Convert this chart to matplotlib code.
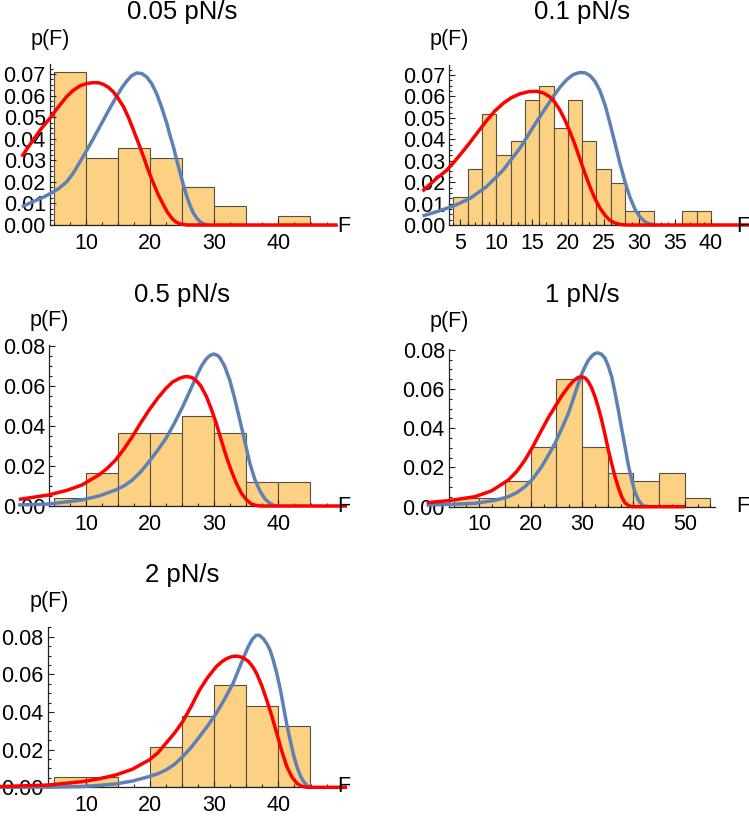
import numpy as np
import matplotlib
matplotlib.use("Agg")
import matplotlib.pyplot as plt
from matplotlib.ticker import MultipleLocator, FixedLocator, FormatStrFormatter

plt.rcParams['font.family'] = ['Liberation Sans', 'DejaVu Sans']

# ---- data ----
titles = ['0.05 pN/s', '0.1 pN/s', '0.5 pN/s', '1 pN/s', '2 pN/s']

edges_005 = [5, 10, 15, 20, 25, 30, 35, 40, 45]
hist_005 = [0.0711, 0.0311, 0.0356, 0.0311, 0.0178, 0.0089, 0.0, 0.0044]
red_005_F = [0.0, 1.0, 2.0, 3.0, 4.38, 5.5, 6.98, 8.0, 9.06, 10.1, 11.15, 12.0, 12.71, 13.5, 14.27,
             15.0, 15.83, 16.6, 17.4, 18.2, 18.96, 19.7, 20.52, 21.3, 22.08, 22.7, 23.39, 24.0,
             24.69, 25.73, 49.2]
red_005_p = [0.0317, 0.0362, 0.0404, 0.0446, 0.0495, 0.0540, 0.0595, 0.0624, 0.0645, 0.0656,
             0.0660, 0.0659, 0.0652, 0.0638, 0.0617, 0.0588, 0.0549, 0.0500, 0.0440, 0.0378,
             0.0317, 0.0254, 0.0193, 0.0138, 0.0093, 0.0059, 0.0031, 0.0014, 0.0005, 0.0, 0.0]
blue_005_F = [0.0, 1.5, 3.0, 4.38, 5.7, 6.98, 8.0, 9.0, 10.0, 11.1, 12.19, 13.5, 14.79, 15.6,
              16.35, 17.1, 17.92, 18.7, 19.48, 20.25, 21.04, 21.8, 22.6, 23.15, 23.65, 24.15,
              24.69, 25.2, 25.73, 26.25, 26.77, 27.3, 27.81, 28.3, 28.85]
blue_005_p = [0.0085, 0.0105, 0.0124, 0.0145, 0.0168, 0.0200, 0.0240, 0.0290, 0.0340, 0.0398,
              0.0458, 0.0530, 0.0597, 0.0637, 0.0667, 0.0692, 0.0705, 0.0702, 0.0686, 0.0655,
              0.0607, 0.0545, 0.0471, 0.0410, 0.0360, 0.0300, 0.0240, 0.0184, 0.0131, 0.0088,
              0.0054, 0.0030, 0.0015, 0.0006, 0.0]

edges_01 = [4, 6, 8, 10, 12, 14, 16, 18, 20, 22, 24, 26, 28, 30, 32, 34, 36, 38, 40]
hist_01 = [0.0130, 0.0260, 0.0519, 0.0325, 0.0390, 0.0584, 0.0649, 0.0455, 0.0584, 0.0390,
           0.0260, 0.0195, 0.0065, 0.0065, 0.0, 0.0, 0.0065, 0.0065]
red_01_F = [-0.3, 1.67, 3.0, 4.0, 5.2, 6.33, 7.5, 8.65, 9.8, 10.98, 12.1, 13.3, 14.5, 15.63,
            16.6, 17.49, 18.2, 18.88, 19.6, 20.28, 21.0, 21.67, 22.4, 23.07, 23.8, 24.47, 25.2,
            25.86, 26.6, 27.4, 28.3, 45.4]
red_01_p = [0.0158, 0.0218, 0.0253, 0.0290, 0.0338, 0.0385, 0.0437, 0.0487, 0.0532, 0.0568,
            0.0594, 0.0612, 0.0622, 0.0624, 0.0616, 0.0598, 0.0572, 0.0537, 0.0490, 0.0436,
            0.0375, 0.0310, 0.0240, 0.0180, 0.0122, 0.0080, 0.0045, 0.0022, 0.0009, 0.0002,
            0.0, 0.0]
blue_01_F = [-0.3, 1.67, 4.0, 6.33, 8.65, 10.98, 13.3, 15.63, 17.95, 18.9, 19.81, 20.7, 21.67,
             22.4, 23.07, 23.8, 24.47, 25.2, 25.86, 26.6, 27.26, 28.0, 28.65, 29.4, 30.05, 30.8,
             31.44, 32.4]
blue_01_p = [0.0042, 0.0062, 0.0088, 0.0124, 0.0179, 0.0257, 0.0358, 0.0482, 0.0599, 0.0643,
             0.0677, 0.0701, 0.0712, 0.0710, 0.0698, 0.0670, 0.0628, 0.0560, 0.0478, 0.0380,
             0.0290, 0.0200, 0.0132, 0.0072, 0.0039, 0.0014, 0.0005, 0.0]

edges_05 = [5, 10, 15, 20, 25, 30, 35, 40, 45]
hist_05 = [0.0041, 0.0163, 0.0367, 0.0367, 0.0449, 0.0367, 0.0122, 0.0122]
red_05_F = [-0.47, 4.14, 7.0, 9.37, 11.99, 13.3, 14.61, 15.9, 17.23, 18.5, 19.84, 21.2, 22.46,
            23.5, 24.55, 25.3, 25.86, 26.5, 27.17, 27.9, 28.74, 29.5, 30.31, 31.1, 31.88, 32.7,
            33.46, 34.2, 35.03, 35.8, 36.6, 37.3, 50.7]
red_05_p = [0.0033, 0.0055, 0.0078, 0.0105, 0.0155, 0.0188, 0.0230, 0.0284, 0.0347, 0.0414,
            0.0480, 0.0540, 0.0588, 0.0620, 0.0638, 0.0646, 0.0647, 0.0642, 0.0628, 0.0600,
            0.0550, 0.0488, 0.0413, 0.0328, 0.0247, 0.0172, 0.0113, 0.0065, 0.0030, 0.0010,
            0.0002, 0.0, 0.0]
blue_05_F = [-0.58, 4.14, 9.37, 12.0, 14.61, 16.0, 17.23, 18.5, 19.84, 21.2, 22.46, 23.8, 25.08,
             26.2, 27.17, 28.0, 28.74, 29.3, 29.9, 30.5, 30.84, 31.6, 32.41, 33.2, 33.98, 34.8,
             35.55, 36.3, 37.12, 37.9, 38.69, 39.2, 39.74]
blue_05_p = [0.0005, 0.0010, 0.0030, 0.0050, 0.0080, 0.0102, 0.0130, 0.0170, 0.0222, 0.0280,
             0.0338, 0.0415, 0.0497, 0.0575, 0.0645, 0.0700, 0.0735, 0.0752, 0.0760, 0.0753,
             0.0743, 0.0700, 0.0630, 0.0535, 0.0430, 0.0318, 0.0213, 0.0135, 0.0075, 0.0035,
             0.0013, 0.0004, 0.0]

edges_1 = [5, 10, 15, 20, 25, 30, 35, 40, 45, 50, 55]
hist_1 = [0.0043, 0.0043, 0.0130, 0.0304, 0.0652, 0.0304, 0.0174, 0.0130, 0.0174, 0.0043]
red_1_F = [-0.26, 4.09, 9.16, 12.4, 15.65, 17.3, 18.9, 20.5, 22.14, 23.4, 24.74, 26.0, 27.34,
           28.4, 29.29, 30.06, 30.7, 31.23, 31.9, 32.53, 33.2, 33.83, 34.5, 35.13, 35.8, 36.43,
           37.1, 37.73, 38.3, 38.9, 39.68, 50.06]
red_1_p = [0.0020, 0.0031, 0.0051, 0.0081, 0.0136, 0.0180, 0.0238, 0.0310, 0.0391, 0.0452,
           0.0509, 0.0563, 0.0611, 0.0643, 0.0659, 0.0662, 0.0654, 0.0637, 0.0604, 0.0560,
           0.0503, 0.0441, 0.0365, 0.0289, 0.0217, 0.0153, 0.0095, 0.0051, 0.0022, 0.0008,
           0.0, 0.0]
blue_1_F = [-0.26, 9.16, 13.0, 15.65, 17.3, 18.9, 20.5, 22.14, 23.4, 24.74, 26.0, 27.34, 28.3,
            29.29, 30.0, 30.58, 31.2, 31.88, 32.45, 33.05, 33.8, 34.48, 35.1, 35.78, 36.4, 37.08,
            37.7, 38.38, 39.0, 39.68, 40.3, 40.97, 41.6, 42.27]
blue_1_p = [0.0008, 0.0017, 0.0032, 0.0051, 0.0072, 0.0102, 0.0145, 0.0204, 0.0260, 0.0323,
            0.0395, 0.0475, 0.0550, 0.0628, 0.0680, 0.0713, 0.0745, 0.0767, 0.0780, 0.0784,
            0.0777, 0.0756, 0.0718, 0.0662, 0.0585, 0.0492, 0.0400, 0.0306, 0.0215, 0.0136,
            0.0075, 0.0034, 0.0012, 0.0]

edges_2 = [5, 10, 15, 20, 25, 30, 35, 40, 45]
hist_2 = [0.0054, 0.0054, 0.0, 0.0216, 0.0378, 0.0541, 0.0432, 0.0324]
red_2_F = [-3.5, 4.14, 9.37, 12.0, 14.61, 17.23, 19.84, 21.2, 22.46, 23.8, 25.08, 26.4, 27.7,
           29.0, 30.31, 31.2, 32.0, 32.8, 33.5, 34.4, 35.29, 36.0, 36.6, 37.4, 38.17, 39.0,
           39.74, 40.5, 41.31, 42.1, 42.88, 43.6, 44.45, 50.7]
red_2_p = [0.0004, 0.0012, 0.0030, 0.0045, 0.0065, 0.0096, 0.0145, 0.0183, 0.0234, 0.0288,
           0.0349, 0.0430, 0.0517, 0.0585, 0.0641, 0.0668, 0.0685, 0.0695, 0.0697, 0.0690,
           0.0670, 0.0640, 0.0605, 0.0540, 0.0464, 0.0375, 0.0287, 0.0195, 0.0110, 0.0055,
           0.0021, 0.0006, 0.0, 0.0]
blue_2_F = [-3.5, 4.14, 9.37, 12.0, 14.61, 17.23, 19.84, 21.2, 22.46, 23.8, 25.08, 26.4, 27.7,
            29.0, 30.31, 31.6, 32.93, 33.98, 34.7, 35.29, 35.9, 36.5, 37.0, 37.64, 38.2, 38.69,
            39.2, 39.74, 40.3, 40.79, 41.3, 41.83, 42.35, 42.88, 43.4, 43.93, 44.45, 44.97]
blue_2_p = [0.0, 0.0001, 0.0004, 0.0010, 0.0018, 0.0033, 0.0057, 0.0072, 0.0092, 0.0122, 0.0163,
            0.0212, 0.0269, 0.0328, 0.0393, 0.0468, 0.0552, 0.0641, 0.0700, 0.0747, 0.0785,
            0.0807, 0.0808, 0.0790, 0.0762, 0.0729, 0.0675, 0.0605, 0.0520, 0.0428, 0.0335,
            0.0251, 0.0172, 0.0110, 0.0062, 0.0030, 0.0010, 0.0]

# ---- layout (image pixels, origin top-left) ----
W, H = 749, 816
BAR_FACE = '#FDD183'
BAR_EDGE = '#55503f'
BLUE = '#5E81B5'
RED = '#FF0000'

panels = [
    dict(title=titles[0], edges=edges_005, hist=hist_005, red=(red_005_F, red_005_p),
         blue=(blue_005_F, blue_005_p), xref=(10, 86, 45, 310.5), yref=(0, 225, 0.07, 74),
         xlim=(-3.4, 49.5), ytop=0.0746, xspine=4.38, xend=49.2,
         xmajor=[10, 20, 30, 40], xminor=2.5, ymajor=0.01, yminor=0.0025,
         title_xy=(182, 12), pF_xy=(50, 40), F_xy=(337, 226)),
    dict(title=titles[1], edges=edges_01, hist=hist_01, red=(red_01_F, red_01_p),
         blue=(blue_01_F, blue_01_p), xref=(4, 453.3, 40, 711.0), yref=(0, 225, 0.07, 75),
         xlim=(-0.5, 45.4), ytop=0.0747, xspine=3.44, xend=40.9,
         xmajor=[5, 10, 15, 20, 25, 30, 35, 40], xminor=1, ymajor=0.01, yminor=0.0025,
         title_xy=(582, 12), pF_xy=(449, 40), F_xy=(736, 226)),
    dict(title=titles[2], edges=edges_05, hist=hist_05, red=(red_05_F, red_05_p),
         blue=(blue_05_F, blue_05_p), xref=(10, 86, 45, 310.5), yref=(0, 506, 0.08, 346),
         xlim=(-3.4, 50.8), ytop=0.0805, xspine=4.3, xend=49.2,
         xmajor=[10, 20, 30, 40], xminor=2.5, ymajor=0.02, yminor=0.005,
         title_xy=(182, 295), pF_xy=(49, 321), F_xy=(337, 506)),
    dict(title=titles[3], edges=edges_1, hist=hist_1, red=(red_1_F, red_1_p),
         blue=(blue_1_F, blue_1_p), xref=(15, 505, 50, 684.7), yref=(0, 506.7, 0.08, 349.7),
         xlim=(-0.5, 56.0), ytop=0.0806, xspine=4.09, xend=55.9,
         xmajor=[10, 20, 30, 40, 50], xminor=2.5, ymajor=0.02, yminor=0.005,
         title_xy=(582, 295), pF_xy=(449, 322), F_xy=(736, 507)),
    dict(title=titles[4], edges=edges_2, hist=hist_2, red=(red_2_F, red_2_p),
         blue=(blue_2_F, blue_2_p), xref=(10, 86, 45, 310.5), yref=(0, 787.3, 0.08, 636.7),
         xlim=(-3.5, 50.8), ytop=0.0853, xspine=4.03, xend=49.2,
         xmajor=[10, 20, 30, 40], xminor=2.5, ymajor=0.02, yminor=0.005,
         title_xy=(182, 575), pF_xy=(49, 602), F_xy=(337, 787)),
]

fig = plt.figure(figsize=(W / 100, H / 100), dpi=100)
fs_tick = 15.5


def fig_xy(x, y):
    return x / W, 1 - y / H


for pn in panels:
    fa, pxa, fb, pxb = pn['xref']
    sx = (pxb - pxa) / (fb - fa)
    left = pxa + (pn['xlim'][0] - fa) * sx
    right = pxa + (pn['xlim'][1] - fa) * sx
    pa, pya, pb, pyb = pn['yref']
    sy = (pyb - pya) / (pb - pa)
    bottom = pya + (0 - pa) * sy
    top = pya + (pn['ytop'] - pa) * sy
    ax = fig.add_axes([left / W, 1 - bottom / H, (right - left) / W, (bottom - top) / H])
    ax.set_xlim(*pn['xlim'])
    ax.set_ylim(0, pn['ytop'])
    ax.patch.set_alpha(0)

    e = np.array(pn['edges'])
    ax.bar(e[:-1], pn['hist'], width=np.diff(e), align='edge', color=BAR_FACE,
           edgecolor=BAR_EDGE, linewidth=0.8, zorder=1)
    ax.plot(*pn['blue'], color=BLUE, lw=2.5, solid_capstyle='butt', solid_joinstyle='round',
            clip_on=False, zorder=3)
    ax.plot(*pn['red'], color=RED, lw=2.5, solid_capstyle='butt', solid_joinstyle='round',
            clip_on=False, zorder=4)

    for s in ['top', 'right']:
        ax.spines[s].set_visible(False)
    ax.spines['left'].set_position(('data', pn['xspine']))
    ax.spines['left'].set_bounds(0, pn['ytop'])
    ax.spines['bottom'].set_bounds(pn['xspine'], pn['xend'])
    for s in ['left', 'bottom']:
        ax.spines[s].set_linewidth(0.9)
        ax.spines[s].set_color('#222222')
        ax.spines[s].set_zorder(2.5)

    ax.xaxis.set_major_locator(FixedLocator(pn['xmajor']))
    ax.xaxis.set_minor_locator(FixedLocator(
        [t for t in np.arange(0, 60, pn['xminor']) if pn['xspine'] < t <= pn['xend']]))
    ax.yaxis.set_major_locator(MultipleLocator(pn['ymajor']))
    ax.yaxis.set_minor_locator(MultipleLocator(pn['yminor']))
    ax.yaxis.set_major_formatter(FormatStrFormatter('%.2f'))
    ax.tick_params(which='both', direction='in', color='#222222', width=0.8,
                   labelsize=fs_tick, labelcolor='black')
    ax.tick_params(which='major', length=4)
    ax.tick_params(which='minor', length=2.2)
    ax.tick_params(axis='x', pad=5.5)
    ax.tick_params(axis='y', pad=3)

    fig.text(*fig_xy(*pn['title_xy']), pn['title'], fontsize=18.5, ha='center', va='center')
    fig.text(*fig_xy(*pn['pF_xy']), 'p(F)', fontsize=fs_tick, ha='center', va='center')
    fig.text(*fig_xy(*pn['F_xy']), 'F', fontsize=fs_tick, ha='left', va='center')

fig.savefig('out.png', dpi=100)
